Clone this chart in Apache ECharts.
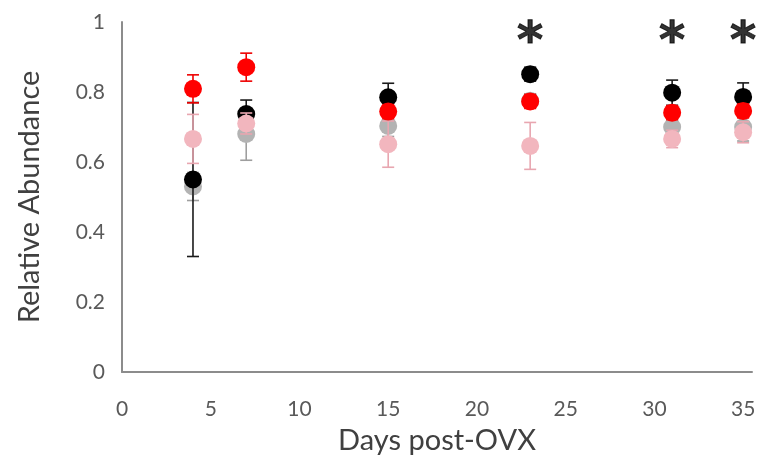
<!DOCTYPE html>
<html>
<head>
<meta charset="utf-8">
<script src="https://cdn.jsdelivr.net/npm/echarts@6/dist/echarts.min.js"></script>
<style>html,body{margin:0;padding:0;background:#fff}#c{width:759px;height:467px}</style>
</head>
<body>
<div id="c"></div>
<script>
const days = [4, 7, 15, 23, 31, 35];
const blackMean = [0.55, 0.737, 0.785, 0.851, 0.798, 0.786];
const blackErr  = [0.22, 0.04, 0.04, 0.02, 0.036, 0.04];
const redMean   = [0.809, 0.871, 0.744, 0.773, 0.741, 0.746];
const redErr    = [0.04, 0.04, 0.02, 0.02, 0.02, 0.02];
const grayMean  = [0.53, 0.68, 0.703, 0.775, 0.70, 0.70];
const grayErr   = [0.04, 0.075, 0.03, 0.02, 0.02, 0.04];
const pinkMean  = [0.666, 0.71, 0.651, 0.646, 0.666, 0.685];
const pinkErr   = [0.07, 0.03, 0.066, 0.067, 0.025, 0.03];
const starDays  = [23, 31, 35];
const starLevel = 0.97;
const yTicks = [0, 0.2, 0.4, 0.6, 0.8, 1];
const xTicks = [0, 5, 10, 15, 20, 25, 30, 35];

const chart = echarts.init(document.getElementById('c'));

function pts(mean){ return days.map((d,i)=>[d, mean[i]]); }
function errData(mean, err){ return days.map((d,i)=>[d, mean[i]-err[i], mean[i]+err[i]]); }

function errSeries(name, mean, err, color, z){
  return {
    type: 'custom', name: name + '-err', z: z, silent: true,
    data: errData(mean, err),
    renderItem: function(params, api){
      const x = api.value(0);
      const lo = api.coord([x, api.value(1)]);
      const hi = api.coord([x, api.value(2)]);
      const w = 6;
      const st = {stroke: color, lineWidth: 1.6};
      return {type: 'group', children: [
        {type: 'line', shape: {x1: lo[0], y1: lo[1], x2: hi[0], y2: hi[1]}, style: st},
        {type: 'line', shape: {x1: lo[0]-w, y1: lo[1], x2: lo[0]+w, y2: lo[1]}, style: st},
        {type: 'line', shape: {x1: hi[0]-w, y1: hi[1], x2: hi[0]+w, y2: hi[1]}, style: st}
      ]};
    }
  };
}
function dotSeries(name, mean, color, z){
  return {type: 'scatter', name: name, z: z, data: pts(mean), symbol: 'circle', symbolSize: 18,
    itemStyle: {color: color, opacity: 1}, silent: true};
}

const labelFont = 'Lato, "Liberation Sans", sans-serif';

chart.setOption({
  animation: false,
  backgroundColor: '#ffffff',
  grid: {left: 122, right: 7, top: 22, bottom: 95, containLabel: false},
  xAxis: {
    type: 'value', min: 0, max: 35.5, interval: 5,
    name: 'Days post-OVX', nameLocation: 'middle', nameGap: 54,
    nameTextStyle: {fontFamily: labelFont, fontSize: 29, color: '#404040'},
    axisLine: {show: true, lineStyle: {color: '#8c8c8c', width: 2}},
    axisTick: {show: false}, splitLine: {show: false},
    axisLabel: {margin: 27, fontFamily: labelFont, fontSize: 21, color: '#595959',
      formatter: v => xTicks.indexOf(v) >= 0 ? String(v) : ''}
  },
  yAxis: {
    type: 'value', min: 0, max: 1, interval: 0.2,
    name: 'Relative Abundance', nameLocation: 'middle', nameGap: 78,
    nameTextStyle: {fontFamily: labelFont, fontSize: 29, color: '#404040'},
    axisLine: {show: true, lineStyle: {color: '#8c8c8c', width: 2}},
    axisTick: {show: false}, splitLine: {show: false},
    axisLabel: {margin: 17, fontFamily: labelFont, fontSize: 21, color: '#595959',
      formatter: v => { const t = yTicks.find(k => Math.abs(k - v) < 1e-9); return t === undefined ? '' : String(t); }}
  },
  series: [
    errSeries('gray', grayMean, grayErr, '#9e9e9e', 2),
    dotSeries('gray', grayMean, '#b3b3b3', 3),
    errSeries('black', blackMean, blackErr, '#1a1a1a', 4),
    dotSeries('black', blackMean, '#000000', 5),
    errSeries('pink', pinkMean, pinkErr, '#e8a6b0', 6),
    dotSeries('pink', pinkMean, '#f2b6be', 7),
    errSeries('red', redMean, redErr, '#ee0000', 8),
    dotSeries('red', redMean, '#ff0000', 9),
    {type: 'scatter', name: 'sig', z: 10, silent: true, symbolSize: 2,
      itemStyle: {color: 'rgba(0,0,0,0)'},
      data: starDays.map(d => [d, starLevel]),
      label: {show: true, position: 'inside', formatter: '*', fontFamily: '"DejaVu Sans", sans-serif',
        fontSize: 50, fontWeight: 'bold', color: '#000000', textBorderColor: '#000000', textBorderWidth: 1, offset: [0, 12]}}
  ]
});
</script>
</body>
</html>
